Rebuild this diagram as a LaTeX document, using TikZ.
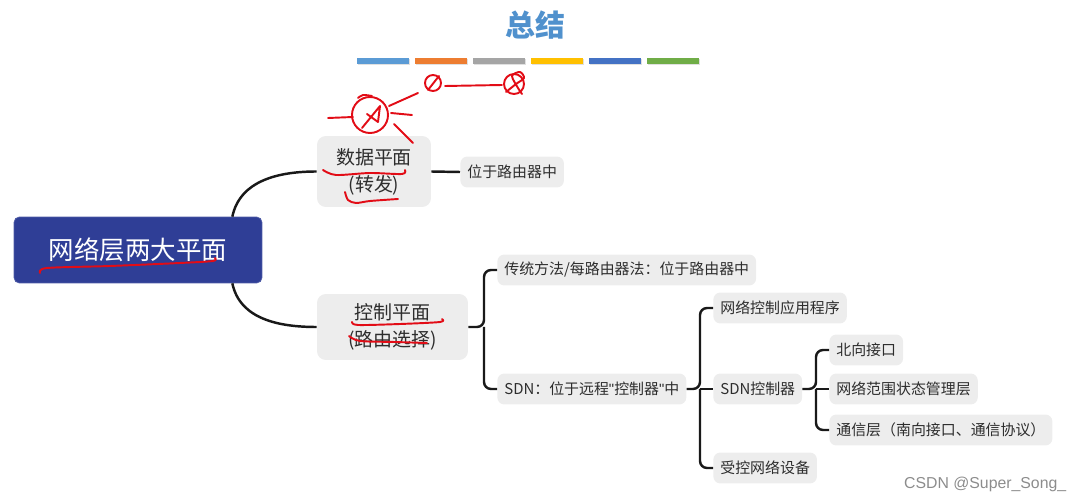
\documentclass[tikz,border=0pt]{standalone}
\usepackage{fontspec}
\setmainfont{Noto Sans CJK SC}
\newfontfamily\markfont{Liberation Sans}
\usetikzlibrary{calc}
\definecolor{rootblue}{RGB}{47,62,150}
\definecolor{boxgray}{RGB}{237,237,237}
\definecolor{inkred}{RGB}{226,12,22}
\definecolor{titleblue}{RGB}{80,145,205}
\definecolor{txtgray}{RGB}{45,45,45}
\definecolor{lineblack}{RGB}{25,25,25}
\definecolor{bar1}{RGB}{91,155,213}
\definecolor{bar2}{RGB}{237,125,49}
\definecolor{bar3}{RGB}{165,165,165}
\definecolor{bar4}{RGB}{255,192,0}
\definecolor{bar5}{RGB}{68,114,196}
\definecolor{bar6}{RGB}{112,173,71}
\newcommand{\sq}{{\markfont"}}
\tikzstyle{root box}=[fill=rootblue, draw=rootblue!85!white, rounded corners=3pt,
        text=white, minimum width=4.96cm, minimum height=1.32cm,
        font=\fontsize{14.5}{17}\selectfont]
\tikzstyle{topic box}=[fill=boxgray, rounded corners=5pt, text=txtgray, align=center,
        inner sep=1pt, font=\fontsize{10.8}{15.3}\selectfont]
\tikzstyle{leaf box}=[fill=boxgray, rounded corners=4pt, text=txtgray, anchor=west,
        inner xsep=0.14cm, inner ysep=2pt, minimum height=0.62cm,
        font=\fontsize{8.5}{10}\selectfont]
\tikzstyle{branch edge}=[-, draw=lineblack, line width=1.4pt, rounded corners=4pt]
\tikzstyle{ink edge}=[-, draw=inkred, line width=1.1pt, line cap=round, line join=round]

\begin{document}
\begin{tikzpicture}[x=0.02cm, y=0.02cm]
    \useasboundingbox (0, 0) rectangle (1076, -503);

    % title and colour strip
    \node [text=titleblue, font=\fontsize{17}{20}\bfseries] (title) at (535, -25) {总结};
    \foreach \c [count=\i from 0] in {bar1,bar2,bar3,bar4,bar5,bar6} {
        \fill [black!12] (358+\i*57.9, -59.5) rectangle ++(52, -6);
        \fill [\c] (357+\i*57.9, -58) rectangle ++(52, -6);
    }

    % mind map
    \node [style=root box] (root) at (138, -250) {网络层两大平面};
    \node [style=topic box, minimum width=2.28cm, minimum height=1.42cm] (data) at (374, -171.5) {数据平面\\(转发)};
    \node [style=topic box, minimum width=3.02cm, minimum height=1.32cm] (ctrl) at (392.5, -327) {控制平面\\(路由选择)};

    \node [style=leaf box] (inrouter) at (460, -172) {位于路由器中};
    \node [style=leaf box] (trad) at (497, -270) {传统方法/每路由器法：位于路由器中};
    \node [style=leaf box] (sdn) at (497, -389) {SDN：位于远程\sq 控制器\sq 中};
    \node [style=leaf box] (app) at (713, -308) {网络控制应用程序};
    \node [style=leaf box] (sdnctl) at (713, -389) {SDN控制器};
    \node [style=leaf box] (dev) at (713, -468) {受控网络设备};
    \node [style=leaf box] (northif) at (829, -350) {北向接口};
    \node [style=leaf box] (state) at (829, -389) {网络范围状态管理层};
    \node [style=leaf box] (comm) at (829, -430) {通信层（南向接口、通信协议）};

    \coordinate (fork1) at (484, -327);
    \coordinate (fork2) at (700, -389);
    \coordinate (fork3) at (816, -389);

    \draw [style=branch edge] ($(root.north east)+(-30, 0)$) to[out=78, in=180] (data.west);
    \draw [style=branch edge] ($(root.south east)+(-30, 0)$) to[out=-78, in=180] (ctrl.west);
    \draw [style=branch edge] (data.east) -- (inrouter.west);

    \draw [style=branch edge] (ctrl.east) -- (fork1) |- (trad.west);
    \draw [style=branch edge] (fork1) |- (sdn.west);

    \draw [style=branch edge] (sdn.east) -- (fork2) |- (app.west);
    \draw [style=branch edge] (fork2) -- (sdnctl.west);
    \draw [style=branch edge] (fork2) |- (dev.west);

    \draw [style=branch edge] (sdnctl.east) -- (fork3) |- (northif.west);
    \draw [style=branch edge] (fork3) -- (state.west);
    \draw [style=branch edge] (fork3) |- (comm.west);

    % red pen marks
    \draw [style=ink edge] plot[smooth] coordinates {(40,-273) (47,-268) (110,-266) (180,-263) (213,-261) (215,-258)};
    \draw [style=ink edge] plot[smooth] coordinates {(323,-170) (336,-175) (370,-173) (402,-174) (405,-170)};
    \draw [style=ink edge] plot[smooth] coordinates {(345,-192) (348,-200) (356,-203) (370,-201) (398,-199)};
    \draw [style=ink edge] plot[smooth] coordinates {(352,-322) (358,-325) (400,-324) (440,-322) (442,-319)};
    \draw [style=ink edge] plot[smooth] coordinates {(349,-336) (360,-341) (395,-342) (427,-343)};

    \draw [style=ink edge] (370, -115) circle [radius=18];
    \draw [style=ink edge] plot[smooth] coordinates {(358,-98) (363,-95) (372,-96)};
    \draw [style=ink edge] (362, -128) -- (380, -106) -- (378, -122) -- (367, -114);
    \draw [style=ink edge] (328, -118) -- (353, -117);
    \draw [style=ink edge] (389, -106) -- (418, -93);
    \draw [style=ink edge] (391, -113) -- (412, -115);
    \draw [style=ink edge] (394, -124) -- (413, -143);
    \draw [style=ink edge] (433, -83) circle [radius=8];
    \draw [style=ink edge] (428, -90) -- (439, -76);
    \draw [style=ink edge] (445, -86) -- (502, -85);
    \draw [style=ink edge] (514, -84) circle [radius=10];
    \draw [style=ink edge] plot[smooth] coordinates {(506,-92) (516,-84) (524,-78) (520,-72) (512,-76) (518,-88) (522,-94)};

    % watermark
    \node [text=black!45, font=\markfont\fontsize{9}{11}\selectfont, anchor=west] (mark) at (898, -484) {CSDN @Super\_Song\_};
\end{tikzpicture}
\end{document}
